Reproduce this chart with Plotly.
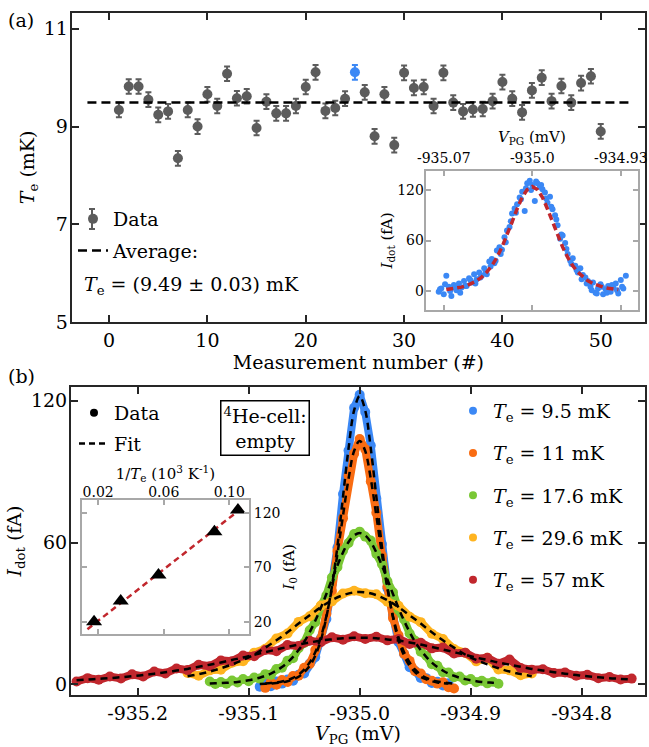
import plotly.graph_objects as go

# ---------------- Panel (a): electron temperature per measurement ----------
MEAS_N = [1, 2, 3, 4, 5, 6, 7, 8, 9, 10, 11, 12, 13, 14, 15, 16, 17, 18, 19, 20,
          21, 22, 23, 24, 25, 26, 27, 28, 29, 30, 31, 32, 33, 34, 35, 36, 37, 38, 39, 40,
          41, 42, 43, 44, 45, 46, 47, 48, 49, 50]
TE_MK = [9.34, 9.82, 9.82, 9.55, 9.24, 9.31, 8.35, 9.34, 9.00, 9.66,
         9.42, 10.08, 9.58, 9.62, 8.97, 9.51, 9.27, 9.27, 9.42, 9.81,
         10.11, 9.32, 9.38, 9.57, 10.11, 9.70, 8.80, 9.66, 8.62, 10.10,
         9.79, 9.81, 9.42, 10.10, 9.49, 9.31, 9.35, 9.36, 9.52, 9.91,
         9.57, 9.29, 9.74, 10.00, 9.52, 9.83, 9.49, 9.89, 10.03, 8.90]
TE_ERR = 0.15
TE_AVG = 9.49
AVG_SPAN = [-2.2, 53.3]
HIGHLIGHT_N = 25

# inset of (a): single trace at Te = 9.5 mK
INS_V = [-935.074, -935.072, -935.070, -935.068, -935.066, -935.064, -935.062, -935.060,
         -935.058, -935.056, -935.054, -935.052, -935.050, -935.048, -935.046, -935.044,
         -935.042, -935.040, -935.038, -935.036, -935.034, -935.032, -935.030, -935.028,
         -935.026, -935.024, -935.022, -935.020, -935.018, -935.016, -935.014, -935.012,
         -935.010, -935.008, -935.006, -935.004, -935.002, -935.000, -934.998, -934.996,
         -934.994, -934.992, -934.990, -934.988, -934.986, -934.984, -934.982, -934.980,
         -934.978, -934.976, -934.974, -934.972, -934.970, -934.968, -934.966, -934.964,
         -934.962, -934.960, -934.958, -934.956, -934.954, -934.952, -934.950, -934.948,
         -934.946, -934.944, -934.942, -934.940, -934.938, -934.936, -934.934, -934.932,
         -934.930, -934.928, -934.926,
         -935.073, -935.069, -935.065, -935.061, -935.057, -935.053, -935.049, -935.045,
         -935.041, -935.037, -935.033, -935.029, -935.025, -935.021, -935.017, -935.013,
         -935.009, -935.005, -935.001, -934.997, -934.993, -934.989, -934.985, -934.981,
         -934.977, -934.973, -934.969, -934.965, -934.961, -934.957, -934.953, -934.949,
         -934.945, -934.941, -934.937, -934.933, -934.929]
INS_I = [-1, 3, -4, 18, 5, -6, 7, 1, 9, 4, 12, 6, 15, 10, 20, 14, 22, 18, 27, 20,
         35, 38, 33, 48, 52, 49, 64, 72, 76, 92, 98, 103, 111, 118, 95, 128, 131, 126, 107, 128,
         124, 121, 117, 105, 112, 97, 90, 78, 62, 66, 57, 44, 36, 39, 30, 22, 27, 19, 16, 12,
         5, 10, -2, 3, 8, -4, 2, 6, -1, 4, 9, -3, 13, 3, 18,
         2, 8, 0, 4, -2, 6, 13, 9, 16, 22, 29, 36, 44, 58, 83, 93, 109, 122, 120, 130,
         126, 110, 100, 85, 67, 50, 32, 25, 14, 9, 1, -3, 5, -2, 7, 1, 5]
INS_FIT_V = [-935.068, -935.064, -935.060, -935.056, -935.052, -935.048, -935.044, -935.040,
             -935.036, -935.032, -935.028, -935.024, -935.020, -935.016, -935.012, -935.008,
             -935.004, -935.000, -934.996, -934.992, -934.988, -934.984, -934.980, -934.976,
             -934.972, -934.968, -934.964, -934.960, -934.956, -934.952, -934.948, -934.944,
             -934.940, -934.936, -934.932]
INS_FIT_I = [1.7, 2.4, 3.3, 4.6, 6.3, 8.8, 12.0, 16.5, 22.4, 30.0, 39.8, 52.1, 66.3, 81.8,
             97.5, 111.4, 120.5, 124.0, 120.5, 111.4, 97.5, 81.8, 66.3, 52.1, 39.8, 30.0,
             22.4, 16.5, 12.0, 8.8, 6.3, 4.6, 3.3, 2.4, 1.7]

# ---------------- Panel (b): Coulomb peaks at several Te -------------------
T_LABELS_MK = ["9.5", "11", "17.6", "29.6", "57"]
T_VALUES_MK = [9.5, 11.0, 17.6, 29.6, 57.0]
SERIES_COLORS = ["#3b88f5", "#f96c12", "#7ac835", "#ffb420", "#c1272d"]

V_BLUE = [-935.090, -935.085, -935.080, -935.075, -935.070, -935.065, -935.060, -935.055,
          -935.050, -935.045, -935.040, -935.035, -935.030, -935.025, -935.020, -935.015,
          -935.010, -935.005, -935.000, -934.995, -934.990, -934.985, -934.980, -934.975,
          -934.970, -934.965, -934.960, -934.955, -934.950, -934.945, -934.940, -934.935,
          -934.930, -934.925, -934.920]
I_BLUE = [-1.0, 0.5, -0.8, 1.2, 0.3, 2.0, 1.5, 4.0, 4.6, 8.8, 11.5, 19.5, 27.6, 42.5, 57.8,
          80.5, 98.9, 117.0, 122.5, 115.2, 101.0, 78.6, 59.4, 40.6, 29.3, 17.8, 12.8, 7.2,
          5.6, 2.7, 2.6, 0.6, 1.1, -0.5, 0.4]
FIT_BLUE = [0.1, 0.2, 0.3, 0.5, 0.8, 1.3, 2.1, 3.2, 5.1, 7.8, 12.1, 18.6, 28.4, 41.3, 58.5,
            79.4, 99.8, 115.9, 122.0, 115.9, 99.8, 79.4, 58.5, 41.3, 28.4, 18.6, 12.1, 7.8,
            5.1, 3.2, 2.1, 1.3, 0.8, 0.5, 0.3]

V_ORANGE = [-935.085, -935.080, -935.075, -935.070, -935.065, -935.060, -935.055, -935.050,
            -935.045, -935.040, -935.035, -935.030, -935.025, -935.020, -935.015, -935.010,
            -935.005, -935.000, -934.995, -934.990, -934.985, -934.980, -934.975, -934.970,
            -934.965, -934.960, -934.955, -934.950, -934.945, -934.940, -934.935, -934.930,
            -934.925, -934.920, -934.915]
I_ORANGE = [-1.5, 0.8, -0.2, 1.8, 1.0, 3.5, 3.6, 7.0, 8.6, 14.5, 19.2, 29.8, 39.5, 56.4,
            70.3, 88.2, 97.6, 103.8, 99.5, 85.8, 72.6, 54.5, 41.4, 28.0, 20.7, 12.9, 9.9,
            5.5, 4.6, 2.1, 1.5, 0.3, 0.9, -1.2, -1.8]
FIT_ORANGE = [0.35, 0.5, 0.8, 1.2, 1.8, 2.7, 4.1, 6.2, 9.3, 13.6, 19.9, 28.8, 40.6, 55.3,
              71.4, 87.0, 98.7, 103.0, 98.7, 87.0, 71.4, 55.3, 40.6, 28.8, 19.9, 13.6, 9.3,
              6.2, 4.1, 2.7, 1.8, 1.2, 0.8, 0.5, 0.35]

V_GREEN = [-935.135, -935.130, -935.125, -935.120, -935.115, -935.110, -935.105, -935.100,
           -935.095, -935.090, -935.085, -935.080, -935.075, -935.070, -935.065, -935.060,
           -935.055, -935.050, -935.045, -935.040, -935.035, -935.030, -935.025, -935.020,
           -935.015, -935.010, -935.005, -935.000, -934.995, -934.990, -934.985, -934.980,
           -934.975, -934.970, -934.965, -934.960, -934.955, -934.950, -934.945, -934.940,
           -934.935, -934.930, -934.925, -934.920, -934.915, -934.910, -934.905, -934.900,
           -934.895, -934.890, -934.885, -934.880, -934.875]
I_GREEN = [1.2, 0.1, 1.0, 0.2, 1.6, 0.8, 2.2, 1.3, 2.9, 2.4, 4.3, 4.0, 6.5, 7.0, 10.0, 11.0,
           15.3, 17.5, 22.9, 26.3, 33.0, 37.6, 45.2, 49.6, 56.5, 59.8, 63.6, 64.6, 62.5, 60.8,
           55.2, 50.9, 43.6, 38.9, 31.5, 27.4, 21.5, 18.4, 13.8, 12.1, 8.5, 7.8, 5.1, 5.0,
           3.0, 3.3, 1.6, 2.2, 0.9, 1.5, 0.4, 1.1, 0.2]
FIT_GREEN = [0.3, 0.4, 0.5, 0.63, 0.8, 1.0, 1.3, 1.7, 2.2, 2.8, 3.6, 4.5, 5.8, 7.3, 9.2, 11.6,
             14.5, 17.9, 22.1, 26.9, 32.3, 38.2, 44.4, 50.3, 55.8, 60.2, 63.0, 64.0, 63.0, 60.2,
             55.8, 50.3, 44.4, 38.2, 32.3, 26.9, 22.1, 17.9, 14.5, 11.6, 9.2, 7.3, 5.8, 4.5,
             3.6, 2.8, 2.2, 1.7, 1.3, 1.0, 0.8, 0.63, 0.5]

V_YELLOW = [-935.155, -935.145, -935.135, -935.125, -935.115, -935.105, -935.095, -935.085,
            -935.075, -935.065, -935.055, -935.045, -935.035, -935.025, -935.015, -935.005,
            -934.995, -934.985, -934.975, -934.965, -934.955, -934.945, -934.935, -934.925,
            -934.915, -934.905, -934.895, -934.885, -934.875, -934.865, -934.855, -934.845]
I_YELLOW = [4.8, 3.6, 5.9, 6.2, 9.1, 9.8, 13.4, 15.0, 19.4, 21.5, 26.4, 28.8, 33.3, 35.1,
            38.4, 39.6, 38.5, 38.1, 34.9, 33.2, 28.6, 26.3, 21.4, 19.2, 14.9, 13.3, 9.7,
            11.2, 6.3, 5.9, 3.8, 4.6]
FIT_YELLOW = [3.4, 4.3, 5.4, 6.8, 8.4, 10.3, 12.6, 15.5, 18.6, 22.0, 25.7, 29.2, 32.6, 35.6,
              37.7, 38.9, 38.9, 37.7, 35.6, 32.6, 29.2, 25.7, 22.0, 18.6, 15.5, 12.6, 10.3,
              8.4, 6.8, 5.4, 4.3, 3.4]

V_RED = [-935.255, -935.245, -935.235, -935.225, -935.215, -935.205, -935.195, -935.185,
         -935.175, -935.165, -935.155, -935.145, -935.135, -935.125, -935.115, -935.105,
         -935.095, -935.085, -935.075, -935.065, -935.055, -935.045, -935.035, -935.025,
         -935.015, -935.005, -934.995, -934.985, -934.975, -934.965, -934.955, -934.945,
         -934.935, -934.925, -934.915, -934.905, -934.895, -934.885, -934.875, -934.865,
         -934.855, -934.845, -934.835, -934.825, -934.815, -934.805, -934.795, -934.785,
         -934.775, -934.765, -934.755]
I_RED = [1.2, 2.6, 1.9, 3.3, 2.5, 4.2, 3.3, 5.4, 4.6, 6.7, 6.0, 8.3, 7.6, 10.1, 9.8, 12.2,
         11.9, 14.5, 14.0, 16.6, 16.2, 18.4, 17.8, 19.9, 18.9, 20.3, 19.2, 20.1, 18.6, 19.2,
         17.1, 17.6, 15.2, 15.6, 13.0, 13.4, 10.8, 11.2, 8.7, 10.5, 6.9, 6.2, 6.4, 4.8, 5.0,
         3.6, 4.0, 2.6, 3.1, 2.0, 2.4]
FIT_RED = [1.7, 2.0, 2.3, 2.6, 3.0, 3.4, 3.9, 4.5, 5.1, 5.8, 6.5, 7.4, 8.3, 9.2, 10.3, 11.3,
           12.5, 13.6, 14.7, 15.8, 16.8, 17.7, 18.5, 19.0, 19.5, 19.7, 19.7, 19.5, 19.0, 18.5,
           17.7, 16.8, 15.8, 14.7, 13.6, 12.5, 11.3, 10.3, 9.2, 8.3, 7.4, 6.5, 5.8, 5.1, 4.5,
           3.9, 3.4, 3.0, 2.6, 2.3, 2.0]

SERIES_V = [V_BLUE, V_ORANGE, V_GREEN, V_YELLOW, V_RED]
SERIES_I = [I_BLUE, I_ORANGE, I_GREEN, I_YELLOW, I_RED]
SERIES_FIT = [FIT_BLUE, FIT_ORANGE, FIT_GREEN, FIT_YELLOW, FIT_RED]

# inset of (b): peak amplitude vs 1/Te
I0_FA = [123, 103, 63, 39, 20]          # same order as T_VALUES_MK
INV_T_FIT = [0.0135, 0.1078]
I0_FIT = [13.0, 125.0]

# tick labels
B_XTICKS = [-935.2, -935.1, -935.0, -934.9, -934.8]
B_XTICKTEXT = ["-935.2", "-935.1", "-935.0", "-934.9", "-934.8"]
A_INS_XTICKS = [-935.07, -935.0, -934.93]
A_INS_XTICKTEXT = ["-935.07", "-935.0", "-934.93"]
B_INS_XTICKS = [0.02, 0.06, 0.10]
B_INS_XTICKTEXT = ["0.02", "0.06", "0.10"]

# ---------------------------------------------------------------------------
FONT = "DejaVu Serif"
W, H = 649, 747
AX = "#262626"
INS = "#a8a8a8"
GRAY = "#5c5c5c"

def px(x):
    return x / W

def py(y):
    return 1 - y / H

fig = go.Figure()

# ---- panel (a)
gx = [n for n in MEAS_N if n != HIGHLIGHT_N]
gy = [t for n, t in zip(MEAS_N, TE_MK) if n != HIGHLIGHT_N]
hy = [t for n, t in zip(MEAS_N, TE_MK) if n == HIGHLIGHT_N]
fig.add_trace(go.Scatter(
    x=gx, y=gy, mode="markers", name="Data", legend="legend", legendgroup="a1",
    marker=dict(size=10, color=GRAY),
    error_y=dict(type="constant", value=TE_ERR, color=GRAY, thickness=2, width=3),
    xaxis="x", yaxis="y"))
fig.add_trace(go.Scatter(
    x=[HIGHLIGHT_N], y=hy, mode="markers", showlegend=False,
    marker=dict(size=10, color=SERIES_COLORS[0]),
    error_y=dict(type="constant", value=TE_ERR, color=SERIES_COLORS[0], thickness=2, width=3),
    xaxis="x", yaxis="y"))
fig.add_trace(go.Scatter(
    x=AVG_SPAN, y=[TE_AVG, TE_AVG], mode="lines", name="Average:", legend="legend",
    legendgroup="a2", line=dict(color="black", width=2.5, dash="9px,5px"),
    xaxis="x", yaxis="y"))

# inset (a)
fig.add_trace(go.Scatter(
    x=INS_V, y=INS_I, mode="markers", showlegend=False,
    marker=dict(size=6, color=SERIES_COLORS[0]), xaxis="x2", yaxis="y2"))
fig.add_trace(go.Scatter(
    x=INS_FIT_V, y=INS_FIT_I, mode="lines", showlegend=False,
    line=dict(color=SERIES_COLORS[4], width=3.5, dash="7px,4px"), xaxis="x2", yaxis="y2"))

# ---- panel (b) data
for v, i, c in zip(SERIES_V, SERIES_I, SERIES_COLORS):
    fig.add_trace(go.Scatter(
        x=v, y=i, mode="lines+markers", showlegend=False,
        line=dict(color=c, width=8), marker=dict(size=10, color=c),
        xaxis="x3", yaxis="y3"))
for v, f in zip(SERIES_V, SERIES_FIT):
    fig.add_trace(go.Scatter(
        x=v, y=f, mode="lines", showlegend=False, line_shape="spline",
        line=dict(color="black", width=2.5, dash="7px,5px"), xaxis="x3", yaxis="y3"))

# legend entries for panel (b)
fig.add_trace(go.Scatter(x=[None], y=[None], mode="markers", name="Data",
                         legend="legend2", legendgroup="b1",
                         marker=dict(size=8, color="black"), xaxis="x3", yaxis="y3"))
fig.add_trace(go.Scatter(x=[None], y=[None], mode="lines", name="Fit",
                         legend="legend2", legendgroup="b2",
                         line=dict(color="black", width=2.5, dash="6px,4px"),
                         xaxis="x3", yaxis="y3"))
for k, (lab, c) in enumerate(zip(T_LABELS_MK, SERIES_COLORS)):
    fig.add_trace(go.Scatter(x=[None], y=[None], mode="markers",
                             name="<i>T</i><sub>e</sub> = " + lab + " mK",
                             legend="legend3", legendgroup="c%d" % k,
                             marker=dict(size=8, color=c), xaxis="x3", yaxis="y3"))

# inset (b)
inv_t = [1.0 / t for t in T_VALUES_MK]   # 1/Te in 10^3 K^-1 (Te in mK)
fig.add_trace(go.Scatter(
    x=INV_T_FIT, y=I0_FIT, mode="lines", showlegend=False,
    line=dict(color=SERIES_COLORS[4], width=2.5, dash="6px,4px"), xaxis="x4", yaxis="y4"))
fig.add_trace(go.Scatter(
    x=inv_t, y=I0_FA, mode="markers", showlegend=False,
    marker=dict(symbol="triangle-up", size=14, color="black"), xaxis="x4", yaxis="y4"))

# ---- axes
def main_axis(**kw):
    d = dict(showline=True, linecolor=AX, linewidth=2, mirror="allticks", ticks="inside",
             ticklen=7, tickwidth=2, tickcolor=AX, showgrid=False, zeroline=False,
             automargin=False, tickfont=dict(family=FONT, size=19, color="black"))
    d.update(kw)
    return d

def inset_axis(**kw):
    d = dict(showline=True, linecolor=INS, linewidth=2, mirror="allticks", ticks="inside",
             ticklen=5, tickwidth=1.5, tickcolor=INS, showgrid=False, zeroline=False,
             automargin=False, tickfont=dict(family=FONT, size=14, color="black"))
    d.update(kw)
    return d

TITLE19 = dict(family=FONT, size=19, color="black")
TITLE15 = dict(family=FONT, size=15, color="black")

# small error-bar glyph on the "Data" legend marker of panel (a)
LEG_EB_X, LEG_EB_Y = 92, 219
shapes = [
    dict(type="line", xref="paper", yref="paper", x0=px(LEG_EB_X), x1=px(LEG_EB_X),
         y0=py(LEG_EB_Y - 10), y1=py(LEG_EB_Y + 10), line=dict(color=GRAY, width=2)),
    dict(type="line", xref="paper", yref="paper", x0=px(LEG_EB_X - 3), x1=px(LEG_EB_X + 3),
         y0=py(LEG_EB_Y - 10), y1=py(LEG_EB_Y - 10), line=dict(color=GRAY, width=2)),
    dict(type="line", xref="paper", yref="paper", x0=px(LEG_EB_X - 3), x1=px(LEG_EB_X + 3),
         y0=py(LEG_EB_Y + 10), y1=py(LEG_EB_Y + 10), line=dict(color=GRAY, width=2)),
]

fig.update_layout(
    template="none",
    width=W, height=H, margin=dict(l=0, r=0, t=0, b=0, pad=0), autosize=False,
    paper_bgcolor="white", plot_bgcolor="white",
    font=dict(family=FONT, size=19, color="black"),
    xaxis=main_axis(domain=[px(71.7), px(645)], range=[-3.8, 54.5], anchor="y",
                    tickvals=[0, 10, 20, 30, 40, 50],
                    title=dict(text="Measurement number (#)", font=TITLE19, standoff=2)),
    yaxis=main_axis(domain=[py(322), py(12.7)], range=[5, 11.33], anchor="x",
                    tickvals=[5, 7, 9, 11], ticklabelstandoff=-2,
                    title=dict(text="<i>T</i><sub>e</sub> (mK)", font=TITLE19, standoff=4)),
    xaxis2=inset_axis(domain=[px(425.7), px(638)], range=[-935.0843, -934.9164], anchor="y2",
                      side="top", tickvals=A_INS_XTICKS, ticktext=A_INS_XTICKTEXT,
                      title=dict(text="<i>V</i><sub>PG</sub> (mV)", font=TITLE15, standoff=4)),
    yaxis2=inset_axis(domain=[py(310), py(171)], range=[-22.6, 142.6], anchor="x2",
                      tickvals=[0, 60, 120], ticklabelstandoff=-3,
                      title=dict(text="<i>I</i><sub>dot</sub> (fA)", font=TITLE15, standoff=1)),
    xaxis3=main_axis(domain=[px(71.0), px(645)], range=[-935.26, -934.743], anchor="y3",
                     tickvals=B_XTICKS, ticktext=B_XTICKTEXT,
                     title=dict(text="<i>V</i><sub>PG</sub> (mV)", font=TITLE19, standoff=2)),
    yaxis3=main_axis(domain=[py(695), py(387)], range=[-4.53, 125.8], anchor="x3",
                     tickvals=[0, 60, 120], ticklabelstandoff=-2,
                     title=dict(text="<i>I</i><sub>dot</sub> (fA)", font=TITLE19, standoff=4)),
    xaxis4=inset_axis(domain=[px(81.7), px(249)], range=[0.010, 0.112], anchor="y4",
                      side="top", tickvals=B_INS_XTICKS, ticktext=B_INS_XTICKTEXT,
                      ticklabelstandoff=-5,
                      title=dict(text="1/<i>T</i><sub>e</sub> (10<sup>3</sup> K<sup>-1</sup>)",
                                 font=TITLE15, standoff=0)),
    yaxis4=inset_axis(domain=[py(634), py(500)], range=[8.6, 132.3], anchor="x4",
                      side="right", tickvals=[20, 70, 120],
                      title=dict(text="<i>I</i><sub>0</sub> (fA)", font=TITLE15, standoff=4)),
    legend=dict(x=px(73), y=py(200), xanchor="left", yanchor="top", bgcolor="rgba(0,0,0,0)",
                font=dict(family=FONT, size=19), tracegroupgap=4, itemwidth=30),
    legend2=dict(x=px(74), y=py(394), xanchor="left", yanchor="top", bgcolor="rgba(0,0,0,0)",
                 font=dict(family=FONT, size=19), tracegroupgap=3, itemwidth=30),
    legend3=dict(x=px(453), y=py(392), xanchor="left", yanchor="top", bgcolor="rgba(0,0,0,0)",
                 font=dict(family=FONT, size=19), tracegroupgap=14.5, itemwidth=30),
    shapes=shapes,
    annotations=[
        dict(text="(a)", x=px(21), y=py(20), xref="paper", yref="paper", showarrow=False,
             xanchor="center", yanchor="middle", font=dict(family=FONT, size=19)),
        dict(text="(b)", x=px(21), y=py(376), xref="paper", yref="paper", showarrow=False,
             xanchor="center", yanchor="middle", font=dict(family=FONT, size=19)),
        dict(text="<i>T</i><sub>e</sub> = (9.49 ± 0.03) mK", x=px(82), y=py(285),
             xref="paper", yref="paper", xanchor="left", yanchor="middle", showarrow=False,
             font=dict(family=FONT, size=19)),
        dict(text="<sup>4</sup>He-cell:<br>empty", x=px(265), y=py(428), xref="paper",
             yref="paper", showarrow=False, align="center", bordercolor="black",
             xanchor="center", yanchor="middle",
             borderwidth=1.5, borderpad=2, bgcolor="white",
             font=dict(family=FONT, size=19)),
    ],
)

# the page body carries a default 8px margin; remove it so the figure fills the window
fig.write_html("out.html", config={"displayModeBar": False},
               post_script="document.body.style.margin='0';document.body.style.overflow='hidden';")
